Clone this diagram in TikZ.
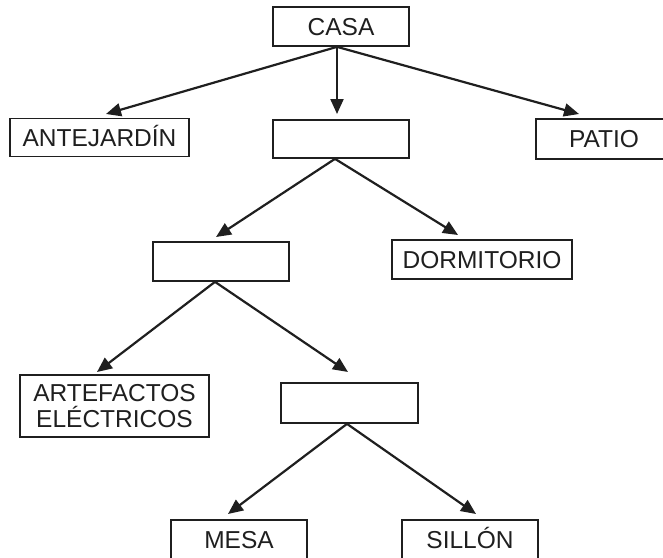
\documentclass[tikz,border=0pt]{standalone}
\usepackage{fontspec}
\setmainfont{Liberation Sans}
\usetikzlibrary{arrows.meta}
\tikzset{
  box/.style={draw=black!88, line width=1.7pt, inner sep=0pt, minimum width=136pt, minimum height=39pt,
    font=\fontsize{24.5}{25.5}\selectfont, text=black!88},
  oneline/.style={text height=17.5pt, text depth=0pt},
  conn/.style={line width=2.2pt, draw=black!88, -{Triangle[length=15pt,width=13pt]}}
}
\begin{document}
\begin{tikzpicture}[x=1pt,y=-1pt]
\useasboundingbox (0,0) rectangle (663,557);
\clip (0,0) rectangle (663,557);
\node[box,oneline] (casa) at (341,26.5) {CASA};
\node[box,oneline,minimum width=179pt,minimum height=38pt] (ante) at (99.5,137.5) {ANTEJARDÍN};
\node[box,minimum height=38pt] (b2) at (341,139) {};
\node[box,oneline,minimum height=40pt] (patio) at (604,139) {PATIO};
\node[box] (b3) at (221,261.5) {};
\node[box,oneline,minimum width=180pt] (dorm) at (482,259.5) {DORMITORIO};
\node[box,align=center,minimum width=189pt,minimum height=62pt] (arte) at (114.5,406) {ARTEFACTOS\\ELÉCTRICOS};
\node[box,minimum width=137pt,minimum height=40pt] (b4) at (349.5,403) {};
\node[box,oneline,minimum height=40pt] (mesa) at (239,540) {MESA};
\node[box,oneline,minimum height=40pt] (sillon) at (470,540) {SILLÓN};
% connector start points
\coordinate (s1) at ([xshift=-4pt]casa.south);
\coordinate (s2) at ([xshift=-6pt]b2.south);
\coordinate (s3) at ([xshift=-6pt]b3.south);
\coordinate (s4) at ([xshift=-2.5pt]b4.south);
% connector end points
\coordinate (tAnte) at (106,114);
\coordinate (tB2) at (337,114);
\coordinate (tPatio) at (579,114);
\coordinate (tB3) at (216,237);
\coordinate (tDorm) at (458,235);
\coordinate (tArte) at (97,372);
\coordinate (tB4) at (348,372);
\coordinate (tMesa) at (228,514);
\coordinate (tSillon) at (476,514);
\draw[conn] (s1) -- (tAnte);
\draw[conn] (s1) -- (tB2);
\draw[conn] (s1) -- (tPatio);
\draw[conn] (s2) -- (tB3);
\draw[conn] (s2) -- (tDorm);
\draw[conn] (s3) -- (tArte);
\draw[conn] (s3) -- (tB4);
\draw[conn] (s4) -- (tMesa);
\draw[conn] (s4) -- (tSillon);
\end{tikzpicture}
\end{document}
